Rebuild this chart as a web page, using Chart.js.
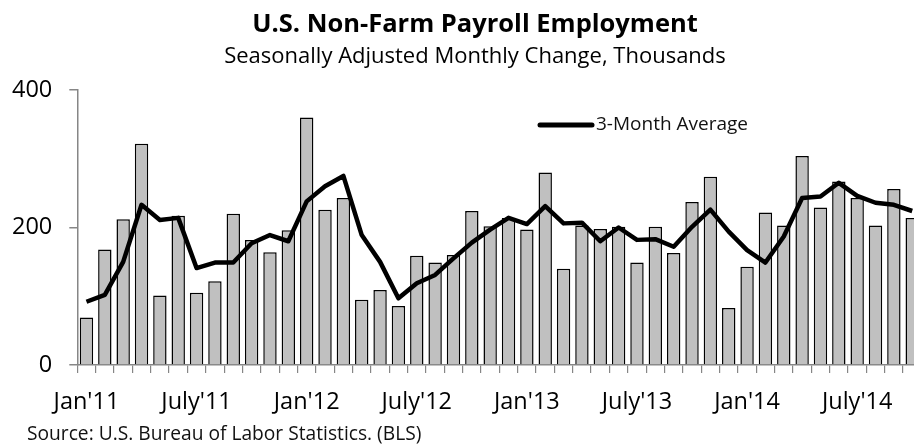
<!DOCTYPE html>
<html>
<head>
<meta charset="utf-8">
<script src="https://cdn.jsdelivr.net/npm/chart.js@4.4.0/dist/chart.umd.min.js"></script>
<style>
  html, body { margin: 0; padding: 0; background: #fff; overflow: hidden; }
  #wrap { position: relative; width: 914px; height: 445px; overflow: hidden; }
  #c { position: absolute; left: 0; top: 0; }
  #source { position: absolute; left: 27px; top: 423px; font-family: "Open Sans", sans-serif; font-size: 19.2px; line-height: 19.2px; color: #111; white-space: nowrap; }
</style>
</head>
<body>
<div id="wrap">
  <canvas id="c" width="950" height="445" style="width:950px;height:445px"></canvas>
  <div id="source">Source: U.S. Bureau of Labor Statistics. (BLS)</div>
</div>
<script>
const categories = [
  "Jan'11","Feb'11","Mar'11","Apr'11","May'11","June'11","July'11","Aug'11","Sep'11","Oct'11","Nov'11","Dec'11",
  "Jan'12","Feb'12","Mar'12","Apr'12","May'12","June'12","July'12","Aug'12","Sep'12","Oct'12","Nov'12","Dec'12",
  "Jan'13","Feb'13","Mar'13","Apr'13","May'13","June'13","July'13","Aug'13","Sep'13","Oct'13","Nov'13","Dec'13",
  "Jan'14","Feb'14","Mar'14","Apr'14","May'14","June'14","July'14","Aug'14","Sep'14","Oct'14"
];
const tickLabels = ["Jan'11","July'11","Jan'12","July'12","Jan'13","July'13","Jan'14","July'14"];
const monthlyChange = [
  69,168,212,322,101,217,105,122,220,182,164,196,
  360,226,243,95,109,86,159,149,160,224,202,214,
  197,280,140,203,198,201,149,201,163,237,274,83,
  143,222,203,304,229,267,243,203,256,214
];
const threeMonthAvg = [
  92,102,150,233,211,214,141,149,149,177,189,180,
  238,260,275,189,150,97,119,131,155,178,197,214,
  205,231,206,207,180,200,182,183,172,201,226,194,
  167,149,187,243,245,265,246,236,233,224
];
const yTicks = [0, 200, 400];
const titleText = "U.S. Non-Farm Payroll Employment";
const subtitleText = "Seasonally Adjusted Monthly Change, Thousands";
const lineLabel = "3-Month Average";
const barLabel = "Monthly Change";

const FONT = "'Open Sans', sans-serif";
const AXIS_GRAY = "#868686";

const legendPlugin = {
  id: 'innerLegend',
  afterDraw(chart) {
    const ctx = chart.ctx;
    ctx.save();
    ctx.strokeStyle = '#000';
    ctx.lineWidth = 5;
    ctx.lineCap = 'round';
    ctx.beginPath();
    ctx.moveTo(540, 125);
    ctx.lineTo(592, 125);
    ctx.stroke();
    ctx.fillStyle = '#111';
    ctx.font = "19px " + FONT;
    ctx.textBaseline = 'middle';
    ctx.textAlign = 'left';
    ctx.fillText(lineLabel, 596, 125);
    ctx.restore();
  }
};

new Chart(document.getElementById('c'), {
  data: {
    labels: categories,
    datasets: [
      {
        type: 'line',
        label: lineLabel,
        data: threeMonthAvg,
        borderColor: '#000',
        borderWidth: 4.5,
        pointRadius: 0,
        tension: 0,
        borderJoinStyle: 'round',
        order: 0
      },
      {
        type: 'bar',
        label: barLabel,
        data: monthlyChange,
        backgroundColor: '#C0C0C0',
        borderColor: '#000',
        borderWidth: 1.5,
        barPercentage: 0.73,
        categoryPercentage: 1.0,
        order: 1
      }
    ]
  },
  options: {
    responsive: false,
    animation: false,
    devicePixelRatio: 1,
    layout: { padding: { left: 0, right: 0, top: 0, bottom: 0 } },
    plugins: {
      legend: { display: false },
      tooltip: { enabled: false },
      title: {
        display: true,
        text: titleText,
        color: '#000',
        font: { family: FONT, size: 25.5, weight: 'bold', lineHeight: 1.2 },
        padding: { top: 9.5, bottom: 0 }
      },
      subtitle: {
        display: true,
        text: subtitleText,
        color: '#000',
        font: { family: FONT, size: 22, weight: 'normal', lineHeight: 1.2 },
        padding: { top: 3, bottom: 20.5 }
      }
    },
    scales: {
      x: {
        type: 'category',
        offset: true,
        grid: {
          offset: true,
          drawOnChartArea: false,
          drawTicks: true,
          tickLength: 8,
          color: AXIS_GRAY,
          lineWidth: 1.2
        },
        border: { display: true, color: AXIS_GRAY, width: 1.5 },
        ticks: {
          autoSkip: false,
          maxRotation: 0,
          minRotation: 0,
          padding: 15.5,
          color: '#000',
          font: { family: FONT, size: 23.5 },
          callback: function(value) {
            const lab = this.getLabelForValue(value);
            return tickLabels.includes(lab) ? lab : '';
          }
        },
        afterFit(scale) { scale.height = 80; }
      },
      y: {
        position: 'left',
        min: 0,
        max: 400,
        afterBuildTicks(scale) { scale.ticks = yTicks.map(v => ({ value: v })); },
        grid: {
          drawOnChartArea: false,
          drawTicks: true,
          tickLength: 8,
          color: AXIS_GRAY,
          lineWidth: 1.5
        },
        border: { display: true, color: AXIS_GRAY, width: 1.5 },
        ticks: {
          padding: 17,
          color: '#000',
          font: { family: FONT, size: 23.5 }
        },
        afterFit(scale) { scale.width = 77.3; }
      },
      yRight: {
        position: 'right',
        display: true,
        grid: { display: false, drawTicks: false },
        border: { display: false },
        ticks: { display: false },
        afterFit(scale) { scale.width = 28.6; }
      }
    }
  },
  plugins: [legendPlugin]
});
</script>
</body>
</html>
